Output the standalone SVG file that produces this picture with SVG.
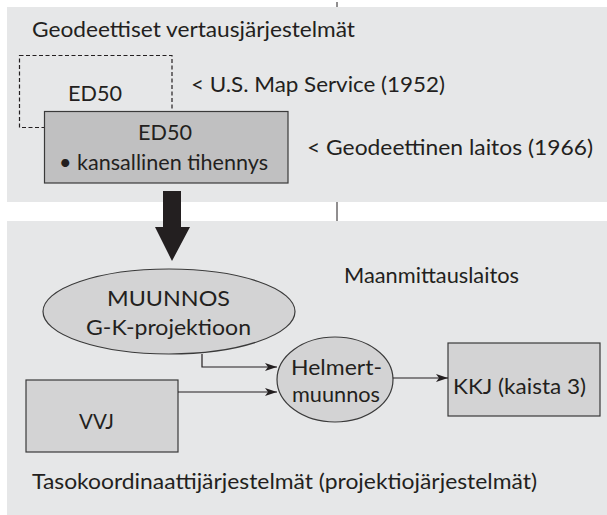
<svg xmlns="http://www.w3.org/2000/svg" width="607" height="515" viewBox="0 0 607 515">
<style>
text{font-family:Lato,"Open Sans","Liberation Sans",sans-serif;font-size:21px;fill:#231f20}
.c{text-anchor:middle}
.panel{fill:#e6e7e8}
.box{stroke:#3a3a3a;stroke-width:1.2}
.conn{fill:none;stroke:#231f20;stroke-width:1.2}
</style>
<defs>
<marker id="ah" viewBox="0 0 12 8" refX="12" refY="4" markerWidth="12" markerHeight="8" markerUnits="userSpaceOnUse" orient="auto">
<path d="M0,0 L12,4 L0,8 L3,4 Z" fill="#231f20"/>
</marker>
</defs>
<rect width="607" height="515" fill="#ffffff"/>
<g id="panel-top">
<rect class="panel" x="7" y="7" width="600" height="195"/>
<text x="32" y="37" textLength="323" lengthAdjust="spacingAndGlyphs">Geodeettiset vertausjärjestelmät</text>
</g>
<g id="panel-bottom">
<rect class="panel" x="7" y="221" width="600" height="294"/>
<text x="32" y="489" textLength="505" lengthAdjust="spacingAndGlyphs">Tasokoordinaattijärjestelmät (projektiojärjestelmät)</text>
</g>
<g id="ticks">
<line x1="337" y1="2" x2="337" y2="7" stroke="#231f20" stroke-width="1"/>
<line x1="337" y1="202" x2="337" y2="221" stroke="#231f20" stroke-width="1"/>
</g>
<g id="ed50-us">
<rect x="19.5" y="55.5" width="152.5" height="72" fill="none" stroke="#231f20" stroke-width="1.2" stroke-dasharray="4,2.5"/>
<text x="95" y="101" class="c" textLength="54" lengthAdjust="spacingAndGlyphs">ED50</text>
<text x="191" y="92" textLength="254" lengthAdjust="spacingAndGlyphs">&lt; U.S. Map Service (1952)</text>
</g>
<g id="ed50-national">
<rect class="box" x="44.5" y="111.5" width="243.5" height="71.5" fill="#c0c0c1"/>
<text x="165" y="140" class="c" textLength="54" lengthAdjust="spacingAndGlyphs">ED50</text>
<text x="163.5" y="170" class="c" textLength="209" lengthAdjust="spacingAndGlyphs">• kansallinen tihennys</text>
<text x="307" y="155" textLength="286" lengthAdjust="spacingAndGlyphs">&lt; Geodeettinen laitos (1966)</text>
</g>
<g id="muunnos">
<ellipse class="box" cx="169" cy="311.5" rx="126" ry="42.5" fill="#d3d3d4"/>
<text x="168.5" y="306" class="c" textLength="123" lengthAdjust="spacingAndGlyphs">MUUNNOS</text>
<text x="168.5" y="335" class="c" textLength="165" lengthAdjust="spacingAndGlyphs">G-K-projektioon</text>
</g>
<g id="maanmittauslaitos">
<text x="344" y="283" textLength="175" lengthAdjust="spacingAndGlyphs">Maanmittauslaitos</text>
</g>
<g id="helmert">
<ellipse class="box" cx="335" cy="379.5" rx="58" ry="42.5" fill="#d3d3d4"/>
<text x="336.5" y="375" class="c" textLength="91" lengthAdjust="spacingAndGlyphs">Helmert-</text>
<text x="336" y="402" class="c" textLength="88" lengthAdjust="spacingAndGlyphs">muunnos</text>
</g>
<g id="vvj">
<rect class="box" x="26" y="380" width="152" height="72" fill="#d3d3d4"/>
<text x="96.5" y="429" class="c" textLength="35" lengthAdjust="spacingAndGlyphs">VVJ</text>
</g>
<g id="kkj">
<rect class="box" x="448" y="343" width="152" height="73" fill="#d3d3d4"/>
<text x="519.5" y="394" class="c" textLength="133" lengthAdjust="spacingAndGlyphs">KKJ (kaista 3)</text>
</g>
<g id="connectors">
<polygon points="163,191 181,191 181,227 190,227 172,261 155,227 163,227" fill="#231f20"/>
<path class="conn" d="M202,354 V367 H277" marker-end="url(#ah)"/>
<path class="conn" d="M178,392 H277" marker-end="url(#ah)"/>
<path class="conn" d="M393,378 H448" marker-end="url(#ah)"/>
</g>
</svg>
